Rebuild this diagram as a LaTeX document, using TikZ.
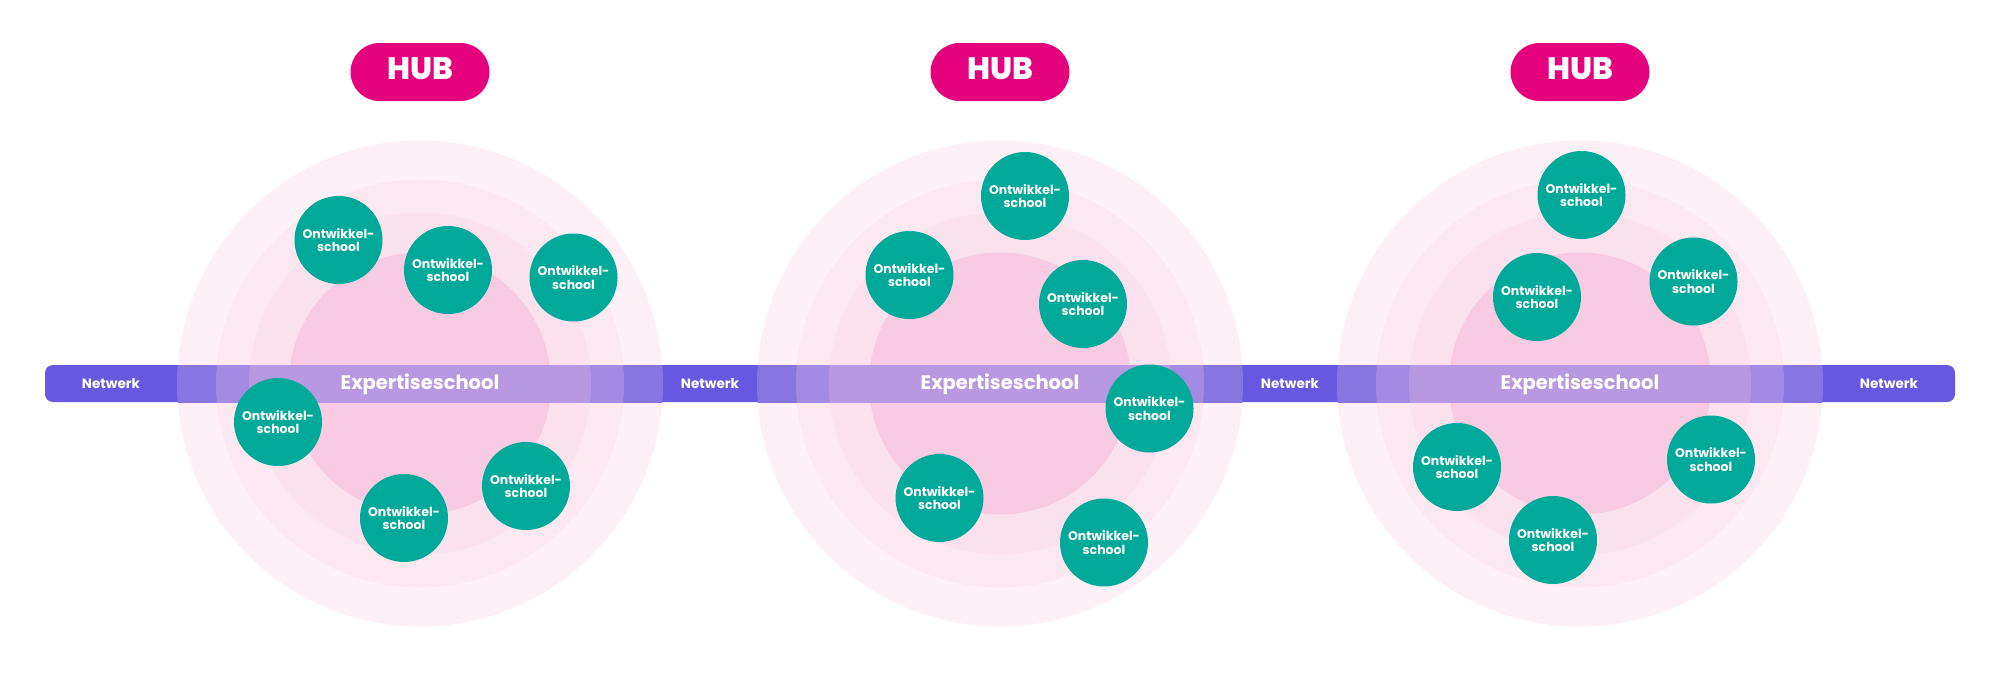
\documentclass[tikz,border=0pt]{standalone}
\usepackage{fontspec}
\setmainfont{Poppins}
\newfontfamily\popheavy{Poppins ExtraBold}
\usepackage{tikz, xcolor}

\definecolor{hubpink}{HTML}{E5007D}
\definecolor{schoolteal}{HTML}{00A99A}
\definecolor{ringA}{HTML}{FDF1F7}
\definecolor{ringB}{HTML}{FCE8F1}
\definecolor{ringC}{HTML}{FBE1ED}
\definecolor{ringD}{HTML}{F8CBE3}
\definecolor{bandA}{HTML}{6858E0}
\definecolor{bandB}{HTML}{8776E1}
\definecolor{bandC}{HTML}{A38BE3}
\definecolor{bandD}{HTML}{B898E1}

\tikzset{
  hubpill/.style={rectangle, rounded corners=29pt, fill=hubpink, text=white,
    minimum width=139pt, minimum height=58pt, inner sep=0pt,
    text height=21pt, text depth=6.4pt,
    font=\popheavy\fontsize{31}{31}\selectfont},
  school/.style={circle, fill=schoolteal, text=white, minimum size=88pt,
    inner sep=0pt, align=center, font=\bfseries\fontsize{12.5}{13.3}\selectfont},
  netlabel/.style={text=white, inner sep=0pt, anchor=base,
    font=\bfseries\fontsize{13.5}{13.5}\selectfont},
  expertlabel/.style={text=white, inner sep=0pt, anchor=base,
    font=\bfseries\fontsize{19.5}{19.5}\selectfont}
}

\begin{document}
\begin{tikzpicture}[x=1pt, y=-1pt]
    \useasboundingbox (0, 0) rectangle (2000, 696);

    \foreach \n/\x in {1/420, 2/1000, 3/1580}
      \coordinate (c\n) at (\x, 383.5);

    % rings round each hub
    \foreach \n in {1, 2, 3}
    {
      \fill [ringA] (c\n) circle (243pt);
      \fill [ringB] (c\n) circle (204pt);
      \fill [ringC] (c\n) circle (171pt);
      \fill [ringD] (c\n) circle (131pt);
    }

    % the band
    \fill [bandA, rounded corners=8pt] (45, 365) rectangle (1955, 402);
    \begin{scope}
      \clip (45, 365) rectangle (1955, 402);
      \foreach \n in {1, 2, 3}
      {
        \fill [bandB] (c\n) circle (243pt);
        \fill [bandC] (c\n) circle (204pt);
        \fill [bandD] (c\n) circle (171pt);
      }
    \end{scope}

    \foreach \n/\x in {1/111, 2/710, 3/1290, 4/1889}
      \node [netlabel] (net\n) at (\x, 388.5) {Netwerk};

    \foreach \n/\x in {1/420, 2/1000, 3/1580}
    {
      \node [expertlabel] (exp\n) at (\x, 389.5) {Expertiseschool};
    }

    % hubs
    \foreach \n/\x in {1/420, 2/1000, 3/1580}
      \node [hubpill] (hub\n) at (\x, 72) {HUB};

    % schools
    \foreach \s/\x/\y in {a1/338.5/240, a2/448/270, a3/573.5/277.5,
                          a4/278/422, a5/404/518, a6/526/486,
                          b1/1025/196, b2/909.5/275, b3/1083/304,
                          b4/1149.5/408.5, b5/939.5/498, b6/1104/542.5,
                          c1/1581.5/195, c2/1537/297, c3/1693.5/281.5,
                          c4/1457/467, c5/1711/459.5, c6/1553/540}
      \node [school] (school-\s) at (\x, \y) {Ontwikkel-\\school};

  \end{tikzpicture}
\end{document}
